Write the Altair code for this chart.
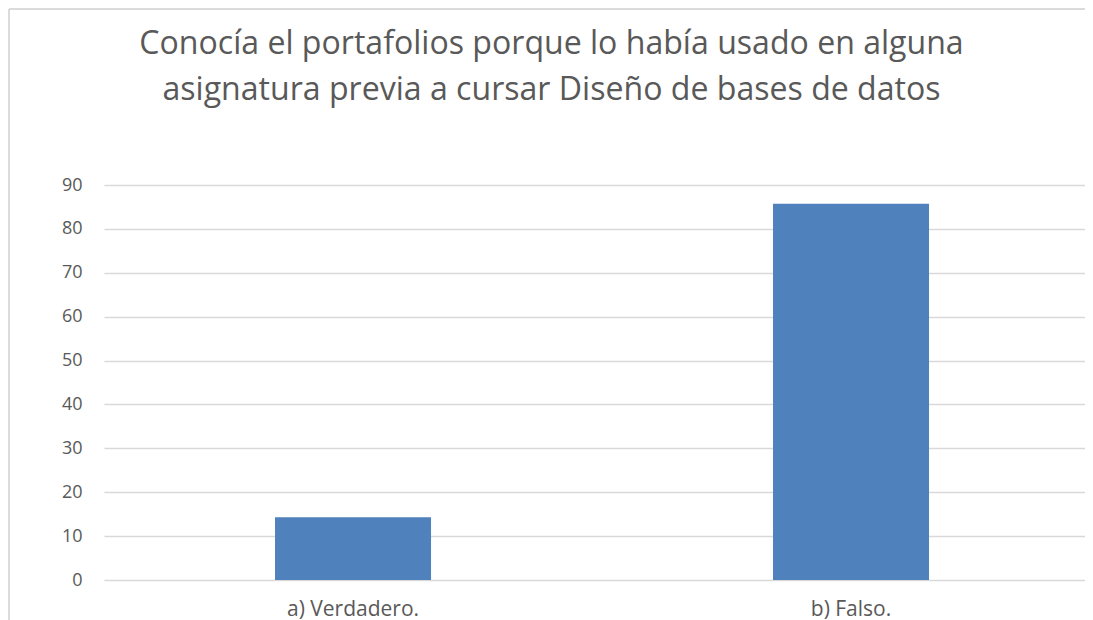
import altair as alt
import pandas as pd

categories = ["a) Verdadero.", "b) Falso."]
values = [14.29, 85.71]
y_ticks = [0, 10, 20, 30, 40, 50, 60, 70, 80, 90]
title_lines = [
    "Conocía el portafolios porque lo había usado en alguna",
    "asignatura previa a cursar Diseño de bases de datos",
]

df = pd.DataFrame({"cat": categories, "val": values})

TEXT = "#595959"
GRID = "#d9d9d9"
FONT = "Open Sans"

bars = alt.Chart(df).mark_bar(color="#4f81bd").encode(
    x=alt.X(
        "cat:N",
        sort=categories,
        scale=alt.Scale(paddingInner=0.6867, paddingOuter=0.3283, align=0.523),
        axis=alt.Axis(
            title=None, labelAngle=0, domain=False, ticks=False, tickSize=0,
            labelPadding=18, labelFontSize=21, labelColor=TEXT, labelFont=FONT,
            grid=False,
        ),
    ),
    y=alt.Y(
        "val:Q",
        scale=alt.Scale(domain=[0, 90], nice=False),
        axis=alt.Axis(
            title=None, values=y_ticks, domain=False, ticks=False, tickSize=0,
            labelPadding=22, labelFontSize=18, labelColor=TEXT, labelFont=FONT,
            grid=True, gridColor=GRID, gridWidth=1.4,
        ),
    ),
)

border_top = alt.Chart(df).mark_rule(color=GRID, strokeWidth=1.5).encode(
    x=alt.value(-95), x2=alt.value(1000), y=alt.value(-176)
)
border_left = alt.Chart(df).mark_rule(color=GRID, strokeWidth=1.5).encode(
    x=alt.value(-95), y=alt.value(-176), y2=alt.value(440)
)

chart = alt.layer(border_top, border_left, bars).properties(
    width=981,
    height=395,
    autosize=alt.AutoSizeParams(type="none"),
    padding={"left": 96, "top": 177, "right": 0, "bottom": 40},
    title=alt.TitleParams(
        text=title_lines,
        font=FONT,
        fontSize=32.1,
        fontWeight="normal",
        color=TEXT,
        lineHeight=46,
        anchor="middle",
        dx=-43,
        dy=103,
    ),
).configure_view(stroke=None)

chart.save("out.html", embed_options={"renderer": "svg", "actions": False})
